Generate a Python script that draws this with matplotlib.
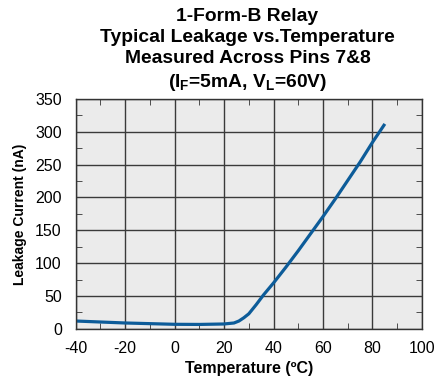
import numpy as np
import matplotlib
matplotlib.use('Agg')
import matplotlib.pyplot as plt
from matplotlib.ticker import MultipleLocator

plt.rcParams['font.family'] = ['Liberation Sans', 'DejaVu Sans']
plt.rcParams['mathtext.fontset'] = 'custom'
plt.rcParams['mathtext.rm'] = 'Liberation Sans:bold'
plt.rcParams['axes.unicode_minus'] = False

# Curve
temp = [-40, -30, -20, -10, 0, 10, 20, 24, 26, 28, 30, 33, 36, 40, 45, 50, 55, 60, 65, 70, 75, 80, 85]
leak = [12, 10.5, 9, 8, 7, 6.8, 7.5, 9, 12, 17, 23, 37, 52, 70, 94, 119, 145, 171, 198, 226, 254, 284, 312]

fig = plt.figure(figsize=(4.35, 3.82), dpi=100)
ax = fig.add_axes([0.174, 0.139, 0.796, 0.602])
ax.set_facecolor('#ebebeb')

ax.plot(temp, leak, color='#0d5c99', linewidth=2.3, solid_capstyle='butt')

ax.set_xlim(-40, 100)
ax.set_ylim(0, 350)
ax.xaxis.set_major_locator(MultipleLocator(20))
ax.xaxis.set_minor_locator(MultipleLocator(10))
ax.yaxis.set_major_locator(MultipleLocator(50))
ax.yaxis.set_minor_locator(MultipleLocator(25))
ax.grid(True, which='major', color='#3a3a3a', linewidth=1.0)
ax.set_axisbelow(True)
ax.tick_params(which='both', direction='in', top=True, right=True, color='#333333')
ax.tick_params(which='major', length=0, labelsize=11.5)
ax.tick_params(axis='x', which='major', pad=9)
ax.tick_params(axis='y', which='major', pad=10)
ax.tick_params(which='minor', length=4)
for s in ax.spines.values():
    s.set_color('#333333')
    s.set_linewidth(1.0)

ax.set_xlabel('Temperature (ºC)', fontsize=11.5, fontweight='bold', labelpad=3)
ax.set_ylabel('Leakage Current (nA)', fontsize=10, fontweight='bold', labelpad=6)

title = ('1-Form-B Relay\nTypical Leakage vs.Temperature\nMeasured Across Pins 7&8\n'
         '(I$_\\mathregular{F}$=5mA, V$_\\mathregular{L}$=60V)')
fig.text(0.569, 0.98, title, ha='center', va='top', fontsize=13.9,
         fontweight='bold', linespacing=1.33)

fig.savefig('out.png', dpi=100)
